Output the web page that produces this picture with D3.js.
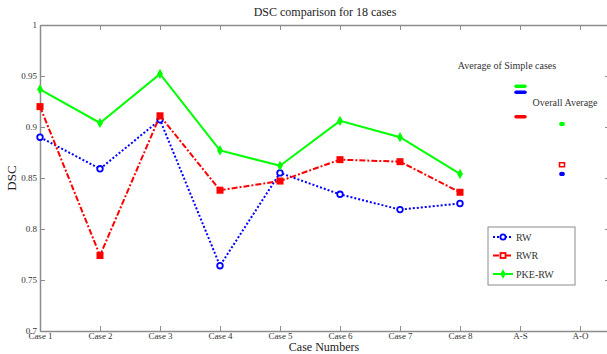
<!DOCTYPE html>
<html>
<head>
<meta charset="utf-8">
<script src="https://cdn.jsdelivr.net/npm/d3@7"></script>
<style>
  body { margin: 0; background: #fff; }
  svg text { font-family: "Liberation Serif", "DejaVu Serif", serif; }
</style>
</head>
<body>
<svg id="chart" width="607" height="354"></svg>
<script>
{
  const BLUE = '#0000FF';
  const RED = '#FF0000';
  const GREEN = '#00FF00';
  const AXIS = '#8c8c8c';
  const TEXT = '#333';
  const FONT = '"Liberation Serif", "DejaVu Serif", serif';

  // data
  const cases = ['Case 1', 'Case 2', 'Case 3', 'Case 4', 'Case 5', 'Case 6', 'Case 7', 'Case 8'];
  const rw = [0.890, 0.859, 0.907, 0.764, 0.855, 0.834, 0.819, 0.825];
  const rwr = [0.920, 0.774, 0.911, 0.838, 0.847, 0.868, 0.866, 0.836];
  const pkeRw = [0.937, 0.904, 0.952, 0.877, 0.862, 0.906, 0.890, 0.854];

  // averages: [RW, RWR, PKE-RW]
  const simpleAvg = [0.934, 0.910, 0.940];
  const overallAvg = [0.854, 0.863, 0.903];
  const simpleAvgX = 9;
  const overallAvgX = 9.7;

  const xTickLabels = ['Case 1', 'Case 2', 'Case 3', 'Case 4', 'Case 5', 'Case 6', 'Case 7', 'Case 8', 'A-S', 'A-O'];
  const yTicks = [0.7, 0.75, 0.8, 0.85, 0.9, 0.95, 1];

  const svg = d3.select('#chart');
  const margin = {left: 40, top: 25, right: -3, bottom: 23};
  const width = 607 - margin.left - margin.right;
  const height = 354 - margin.top - margin.bottom;

  const x = d3.scaleLinear().domain([1, 10.5]).range([margin.left, margin.left + width]);
  const y = d3.scaleLinear().domain([0.7, 1]).range([margin.top + height, margin.top]);

  const fmt = (d) => d === 1 ? '1' : String(d);
  const xTickVals = d3.range(1, 11);

  // axes box
  const axisStyle = (g) => {
    g.attr('font-family', FONT);
    g.select('.domain').attr('stroke', AXIS).attr('stroke-width', 1.5);
    g.selectAll('.tick line').attr('stroke', AXIS);
    g.selectAll('.tick text').attr('fill', TEXT).attr('font-size', 9);
  };

  svg.append('g')
    .attr('transform', `translate(0,${y(0.7)})`)
    .call(d3.axisBottom(x).tickValues(xTickVals).tickSizeInner(-5).tickSizeOuter(0)
      .tickPadding(2).tickFormat((d, i) => xTickLabels[i]))
    .call(axisStyle);

  svg.append('g')
    .attr('transform', `translate(0,${y(1)})`)
    .call(d3.axisTop(x).tickValues(xTickVals).tickSizeInner(-5).tickSizeOuter(0).tickFormat(''))
    .call(axisStyle);

  svg.append('g')
    .attr('transform', `translate(${x(1)},0)`)
    .call(d3.axisLeft(y).tickValues(yTicks).tickSizeInner(-5).tickSizeOuter(0)
      .tickPadding(3).tickFormat(fmt))
    .call(axisStyle);

  svg.append('g')
    .attr('transform', `translate(${x(10.5)},0)`)
    .call(d3.axisRight(y).tickValues(yTicks).tickSizeInner(-5).tickSizeOuter(0).tickFormat(''))
    .call(axisStyle);

  // series
  const series = [
    {name: 'RW', values: rw, color: BLUE, dash: '2,2', marker: 'circle'},
    {name: 'RWR', values: rwr, color: RED, dash: '6,2,2,2', marker: 'square'},
    {name: 'PKE-RW', values: pkeRw, color: GREEN, dash: null, marker: 'diamond'}
  ];

  const line = d3.line().x((d, i) => x(i + 1)).y((d) => y(d));

  series.forEach((s) => {
    svg.append('path')
      .datum(s.values)
      .attr('d', line)
      .attr('fill', 'none')
      .attr('stroke', s.color)
      .attr('stroke-width', 2)
      .attr('stroke-dasharray', s.dash);

    s.values.forEach((v, i) => drawMarker(s, x(i + 1), y(v)));
  });

  function drawMarker(s, cx, cy) {
    if (s.marker === 'circle') {
      svg.append('circle')
        .attr('cx', cx).attr('cy', cy).attr('r', 2.8)
        .attr('fill', '#fff').attr('stroke', s.color).attr('stroke-width', 1.8);
    } else if (s.marker === 'square') {
      svg.append('rect')
        .attr('x', cx - 3.5).attr('y', cy - 3.5).attr('width', 7).attr('height', 7)
        .attr('fill', s.color);
    } else {
      svg.append('path')
        .attr('d', d3.symbol(d3.symbolDiamond, 30)())
        .attr('transform', `translate(${cx},${cy})`)
        .attr('fill', s.color);
    }
  }

  // A-S averages drawn as short thick bars
  simpleAvg.forEach((v, i) => {
    svg.append('line')
      .attr('x1', x(simpleAvgX) - 4).attr('x2', x(simpleAvgX) + 5)
      .attr('y1', y(v)).attr('y2', y(v))
      .attr('stroke', series[i].color)
      .attr('stroke-width', 3.5)
      .attr('stroke-linecap', 'round');
  });

  // A-O averages
  overallAvg.forEach((v, i) => {
    const cx = x(overallAvgX);
    const cy = y(v);
    if (i === 1) {
      svg.append('rect')
        .attr('x', cx - 2.5).attr('y', cy - 2).attr('width', 5).attr('height', 4)
        .attr('fill', '#fff').attr('stroke', RED).attr('stroke-width', 1.5);
    } else {
      svg.append('ellipse')
        .attr('cx', cx).attr('cy', cy).attr('rx', 2.8).attr('ry', 2.2)
        .attr('fill', series[i].color);
    }
  });

  svg.append('text')
    .attr('x', 507).attr('y', 69)
    .attr('text-anchor', 'middle')
    .attr('fill', TEXT)
    .attr('font-size', 10)
    .text('Average of Simple cases');

  svg.append('text')
    .attr('x', 565).attr('y', 106)
    .attr('text-anchor', 'middle')
    .attr('fill', TEXT)
    .attr('font-size', 10)
    .text('Overall Average');

  // legend
  const legend = svg.append('g').attr('transform', 'translate(488,227)');

  legend.append('rect')
    .attr('width', 87).attr('height', 58)
    .attr('fill', '#fff')
    .attr('stroke', AXIS)
    .attr('stroke-width', 1);

  series.forEach((s, i) => {
    const ly = 10 + i * 18.5;
    legend.append('line')
      .attr('x1', 5).attr('x2', 25)
      .attr('y1', ly).attr('y2', ly)
      .attr('stroke', s.color)
      .attr('stroke-width', 2)
      .attr('stroke-dasharray', s.dash);

    const g = legend.append('g');
    if (s.marker === 'circle') {
      g.append('circle').attr('cx', 15).attr('cy', ly).attr('r', 2.6)
        .attr('fill', '#fff').attr('stroke', s.color).attr('stroke-width', 1.8);
    } else if (s.marker === 'square') {
      g.append('rect').attr('x', 12.5).attr('y', ly - 2.5).attr('width', 5).attr('height', 5)
        .attr('fill', '#fff').attr('stroke', s.color).attr('stroke-width', 1.8);
    } else {
      g.append('path').attr('d', d3.symbol(d3.symbolDiamond, 26)())
        .attr('transform', `translate(15,${ly})`).attr('fill', s.color);
    }

    legend.append('text')
      .attr('x', 28).attr('y', ly + 3.5)
      .attr('fill', TEXT)
      .attr('font-size', 10)
      .text(s.name);
  });

  // titles
  svg.append('text')
    .attr('x', 325).attr('y', 16)
    .attr('text-anchor', 'middle')
    .attr('fill', '#222')
    .attr('font-size', 12)
    .text('DSC comparison for 18 cases');

  svg.append('text')
    .attr('x', 324).attr('y', 351)
    .attr('text-anchor', 'middle')
    .attr('fill', '#222')
    .attr('font-size', 12)
    .text('Case Numbers');

  svg.append('text')
    .attr('transform', 'translate(16,178) rotate(-90)')
    .attr('text-anchor', 'middle')
    .attr('fill', '#222')
    .attr('font-size', 13)
    .text('DSC');
}
</script>
</body>
</html>
